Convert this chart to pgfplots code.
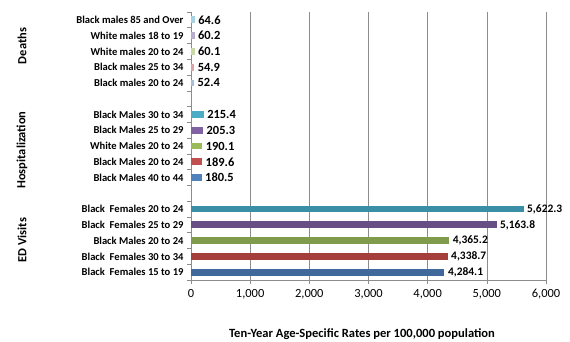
\documentclass[border=0pt]{standalone}
\usepackage{pgfplots}
\pgfplotsset{compat=1.18}
\usepackage{fontspec}
\setmainfont{Carlito}
\definecolor{gridc}{HTML}{8C8C8C}
\definecolor{edB}{HTML}{41689B}
\definecolor{edR}{HTML}{A43F3C}
\definecolor{edG}{HTML}{7F9B4B}
\definecolor{edP}{HTML}{674F86}
\definecolor{edT}{HTML}{3A8EA5}
\definecolor{hB}{HTML}{4F81BD}
\definecolor{hR}{HTML}{C0504D}
\definecolor{hG}{HTML}{9BBB59}
\definecolor{hP}{HTML}{8064A2}
\definecolor{hT}{HTML}{4BACC6}
\definecolor{dB}{HTML}{A9BEDD}
\definecolor{dR}{HTML}{DCA5A4}
\definecolor{dG}{HTML}{C8D9A6}
\definecolor{dP}{HTML}{B8ADCB}
\definecolor{dT}{HTML}{A4D4E1}
\pgfplotsset{biglbl/.style={every node near coord/.append style={font=\bfseries\fontsize{12.5}{14}\selectfont}}}
\begin{document}
\begin{tikzpicture}[x=1bp,y=1bp]
\path[use as bounding box] (0,0) rectangle (570,341);
\begin{axis}[
  at={(191bp,61bp)}, anchor=south west,
  scale only axis, width=355bp, height=268bp,
  xmin=0, xmax=6000, ymin=-0.5, ymax=16.5,
  xbar, bar width=0.43, bar shift=0pt,
  axis x line*=bottom, axis y line*=left,
  axis line style={gridc, line width=0.6pt, -},
  xtick={0,1000,...,6000},
  xmajorgrids, major grid style={gridc, line width=0.6pt},
  ytick={0,...,16},
  yticklabels={Black~ Females 15 to 19, Black~ Females 30 to 34, Black Males 20 to 24, Black~ Females 25 to 29, Black~ Females 20 to 24, {},
    Black Males 40 to 44, Black Males 20 to 24, White Males 20 to 24, Black Males 25 to 29, Black Males 30 to 34, {},
    Black males 20 to 24, Black males 25 to 34, White males 20 to 24, White males 18 to 19, Black males 85 and Over},
  minor ytick={-0.5,0.5,...,16.5},
  tick align=outside,
  major tick length=4bp, minor tick length=4bp,
  y tick style={draw=none},
  minor y tick style={draw=gridc, line width=0.6pt},
  x tick style={draw=gridc, line width=0.6pt},
  yticklabel style={font=\bfseries\fontsize{10.6}{12}\selectfont},
  xticklabel style={font=\fontsize{12.5}{14}\selectfont, yshift=-2bp},
  /pgf/number format/assume math mode=true,
  /pgf/number format/1000 sep={,},
  point meta=x,
  nodes near coords={\pgfmathprintnumber[fixed,fixed zerofill,precision=1,1000 sep={,},assume math mode=true]{\pgfplotspointmeta}},
  every node near coord/.append style={font=\bfseries\fontsize{11.5}{13}\selectfont, black, xshift=0bp},
  clip=false,
]
% ED Visits
\addplot[fill=edB, draw=none] coordinates {(4284.1,0)};
\addplot[fill=edR, draw=none] coordinates {(4338.7,1)};
\addplot[fill=edG, draw=none] coordinates {(4365.2,2)};
\addplot[fill=edP, draw=none] coordinates {(5163.8,3)};
\addplot[fill=edT, draw=none] coordinates {(5622.3,4)};
% Hospitalization
\addplot[fill=hB, draw=none, biglbl] coordinates {(180.5,6)};
\addplot[fill=hR, draw=none, biglbl] coordinates {(189.6,7)};
\addplot[fill=hG, draw=none, biglbl] coordinates {(190.1,8)};
\addplot[fill=hP, draw=none, biglbl] coordinates {(205.3,9)};
\addplot[fill=hT, draw=none, biglbl] coordinates {(215.4,10)};
% Deaths
\addplot[fill=dB, draw=none, biglbl] coordinates {(52.4,12)};
\addplot[fill=dR, draw=none, biglbl] coordinates {(54.9,13)};
\addplot[fill=dG, draw=none, biglbl] coordinates {(60.1,14)};
\addplot[fill=dP, draw=none, biglbl] coordinates {(60.2,15)};
\addplot[fill=dT, draw=none, biglbl] coordinates {(64.6,16)};
\end{axis}
\node[rotate=90, font=\bfseries\fontsize{12.5}{14}\selectfont] at (22,295) {Deaths};
\node[rotate=90, font=\bfseries\fontsize{12.5}{14}\selectfont] at (22,191) {Hospitalization};
\node[rotate=90, font=\bfseries\fontsize{12.5}{14}\selectfont] at (22,101) {ED Visits};
\node[font=\bfseries\fontsize{12.6}{15}\selectfont] at (362,7) {Ten-Year Age-Specific Rates per 100,000 population};
\end{tikzpicture}
\end{document}
